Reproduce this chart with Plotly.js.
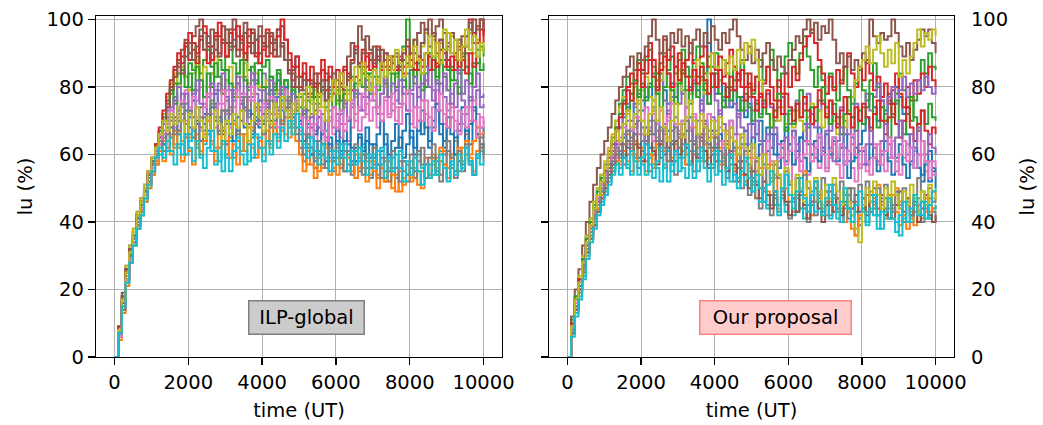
<!DOCTYPE html>
<html>
<head>
<meta charset="utf-8">
<script src="https://cdn.plot.ly/plotly-3.0.1.min.js"></script>
<style>html,body{margin:0;padding:0;background:#fff}#chart{width:1043px;height:425px}</style>
</head>
<body>
<div id="chart"></div>
<script>
const timeUT = [0,100,200,300,400,500,600,700,800,900,1000,1100,1200,1300,1400,1500,1600,1700,1800,1900,2000,2100,2200,2300,2400,2500,2600,2700,2800,2900,3000,3100,3200,3300,3400,3500,3600,3700,3800,3900,4000,4100,4200,4300,4400,4500,4600,4700,4800,4900,5000,5100,5200,5300,5400,5500,5600,5700,5800,5900,6000,6100,6200,6300,6400,6500,6600,6700,6800,6900,7000,7100,7200,7300,7400,7500,7600,7700,7800,7900,8000,8100,8200,8300,8400,8500,8600,8700,8800,8900,9000,9100,9200,9300,9400,9500,9600,9700,9800,9900,10000];
const xTicks = [0,2000,4000,6000,8000,10000];
const yTicks = [0,20,40,60,80,100];

// ILP-global, runs 1-10
const ilpBlue   = [0,7,16,24,30,35,40,44,48,52, 56,60,63,66,64,68,71,66,70,73, 68,65,70,74,69,66,72,75,70,67, 63,68,72,67,70,74,69,65,71,68, 72,75,70,78,82,76,80,74,85,89, 72,66,62,68,64,60,66,70,63,59, 64,61,67,63,58,62,66,60,64,59, 63,57,61,66,60,56,62,65,59,63, 67,62,70,66,72,64,68,73,66,62, 68,71,65,69,74,67,63,70,66,68, 65];
const ilpOrange = [0,6,15,23,29,34,39,43,47,51, 55,58,61,64,62,66,63,67,64,60, 65,68,63,61,66,70,64,62,67,63, 60,65,69,64,61,66,63,68,65,62, 66,70,64,68,72,67,71,65,69,73, 64,60,57,62,59,55,60,63,58,56, 61,57,63,59,55,60,56,62,58,54, 58,53,57,52,56,50,54,49,53,57, 52,56,51,55,59,53,57,54,58,61, 56,60,64,58,62,66,60,64,68,62, 63];
const ilpGreen  = [0,9,18,26,32,37,42,46,50,54, 58,62,65,70,74,78,81,84,86,83, 87,85,89,84,88,91,86,83,88,85, 89,92,87,84,88,90,85,82,87,90, 86,88,83,80,84,79,82,76,80,77, 74,78,73,77,81,75,79,74,78,82, 76,80,75,79,83,78,82,86,80,84, 88,83,87,81,85,89,84,88,92,100, 86,83,88,84,80,85,89,83,87,91, 85,82,88,84,90,86,81,87,91,85, 87];
const ilpRed    = [0,8,17,25,31,36,41,45,49,53, 57,61,65,69,74,79,83,86,89,92, 88,93,90,95,91,87,92,96,90,94, 89,93,97,91,95,88,92,96,90,87, 93,89,95,91,97,92,88,85,82,86, 80,84,78,82,77,81,85,79,83,78, 82,76,80,84,79,83,87,84,89,85, 88,92,86,90,85,88,86,89,84,87, 86,90,85,88,86,89,85,87,91,86, 88,85,89,86,92,95,100,96,98,100, 95];
const ilpPurple = [0,7,16,24,30,35,40,44,48,52, 56,60,63,67,71,74,77,73,78,75, 80,76,79,82,77,80,84,79,81,78, 82,79,76,81,78,83,80,77,82,79, 84,80,77,81,78,74,79,76,72,75, 70,74,68,72,67,71,66,70,73,68, 72,69,74,70,75,72,78,73,77,81, 76,72,78,82,77,73,79,75,80,84, 78,74,80,76,82,85,79,75,81,77, 73,78,74,80,76,72,77,73,79,74, 75];
const ilpBrown  = [0,9,19,27,33,38,43,47,51,55, 59,63,67,72,77,81,85,88,91,94, 90,95,98,100,96,93,97,91,95,98, 93,97,100,95,91,96,93,97,94,90, 95,92,96,93,97,98,94,88,84,80, 83,79,82,78,81,77,80,84,79,82, 78,81,85,89,93,90,98,94,90,88, 92,88,91,86,89,87,90,85,88,86, 90,87,96,99,97,100,95,98,100,96, 93,90,94,91,95,92,97,100,98,100, 96];
const ilpPink   = [0,7,16,24,30,35,40,44,48,52, 56,60,63,67,70,73,76,72,75,79, 74,71,76,80,75,72,78,74,70,75, 79,73,77,71,75,78,72,76,74,70, 74,78,72,76,73,77,74,71,68,72, 67,71,65,69,64,68,63,67,71,66, 70,65,69,64,68,72,67,71,75,70, 74,68,72,77,71,75,70,74,78,73, 69,74,70,76,72,68,74,79,73,69, 75,71,67,73,69,74,70,76,72,68, 70];
const ilpGray   = [0,6,15,23,29,34,39,43,47,51, 55,59,62,65,68,65,70,67,72,69, 66,71,74,68,72,70,75,71,67,73, 76,72,78,81,76,73,77,72,69,74, 70,73,68,72,66,70,74,68,71,66, 62,58,63,60,56,61,57,62,59,55, 59,56,61,57,54,58,55,60,56,53, 57,54,59,55,52,56,53,58,55,52, 56,53,58,62,57,54,59,55,52,57, 61,56,53,58,55,60,57,54,59,62, 60];
const ilpOlive  = [0,9,18,27,33,38,43,47,51,55, 59,63,67,72,77,81,84,80,86,83, 79,84,88,82,86,80,84,89,83,78, 82,86,80,77,83,87,81,78,84,80, 76,82,78,74,79,75,80,77,73,76, 72,76,71,75,79,74,78,73,77,81, 75,79,74,78,82,77,81,85,79,83, 78,82,86,80,84,88,83,87,91,86, 90,94,88,92,96,90,94,89,93,97, 91,95,89,93,88,92,96,90,94,91, 92];
const ilpCyan   = [0,6,14,22,28,33,38,42,46,50, 54,57,60,63,61,65,62,66,63,60, 64,67,62,59,63,66,61,57,62,55, 60,64,59,62,66,61,58,63,60,65, 62,67,63,68,65,70,73,68,72,75, 66,62,65,60,64,59,63,67,61,58, 62,59,64,60,57,61,58,63,59,56, 60,57,62,58,55,59,56,61,58,54, 58,55,60,56,53,57,54,59,61,56, 53,57,60,55,58,62,57,54,59,61, 60];
// ILP-global, runs 11-20
const ilpBlue2   = [0,8,16,23,30,36,40,45,49,54, 57,62,66,63,69,72,67,74,70,65, 71,76,69,64,72,67,74,78,71,66, 73,69,64,71,75,68,73,66,70,76, 69,74,79,72,77,73,80,75,71,77, 70,64,69,60,66,71,63,58,65,61, 67,60,64,70,62,58,65,61,68,63, 59,66,70,63,58,64,69,62,67,72, 65,60,67,73,68,62,70,75,69,64, 71,66,60,67,72,64,69,74,66,63, 62];
const ilpOrange2 = [0,5,13,21,28,33,38,42,46,50, 54,57,61,58,64,60,67,62,58,65, 61,57,66,60,64,70,63,58,62,68, 64,59,63,57,66,61,68,62,59,64, 60,67,62,69,64,70,66,72,68,64, 60,55,61,57,53,59,56,62,54,58, 54,59,55,61,57,53,60,56,52,58, 55,50,56,52,58,54,49,55,51,57, 53,59,55,50,57,53,60,56,62,57, 53,59,55,62,57,64,59,55,61,66, 67];
const ilpGreen2  = [0,8,17,25,31,36,41,45,50,54, 58,63,67,71,76,79,75,81,85,80, 84,79,86,82,77,84,80,87,83,78, 85,81,77,84,88,82,79,86,81,85, 80,76,83,79,85,78,82,75,79,73, 77,72,76,80,73,78,82,76,80,74, 79,73,78,82,76,81,86,80,84,78, 83,79,85,81,77,84,80,86,82,78, 85,81,87,79,84,90,85,81,88,83, 79,86,82,78,85,90,84,80,87,92, 89];
const ilpRed2    = [0,9,18,26,32,37,42,46,50,55, 59,63,68,73,78,82,86,90,87,93, 96,91,87,94,98,92,88,95,99,93, 89,96,92,98,94,90,97,93,89,95, 91,97,93,89,95,100,94,90,86,89, 83,87,82,86,80,84,88,82,86,80, 85,81,86,82,88,92,87,91,86,90, 86,89,85,88,86,89,85,88,86,92, 88,85,89,86,90,85,88,86,94,90, 86,89,85,92,88,84,90,86,93,97, 93];
const ilpPurple2 = [0,7,15,23,29,35,40,44,48,53, 57,61,65,69,73,70,76,80,74,78, 73,78,82,75,71,77,81,74,79,84, 77,72,79,83,77,74,80,84,78,73, 79,75,82,77,73,80,76,71,78,74, 69,73,66,71,75,68,72,65,70,74, 67,72,76,70,74,79,73,77,82,76, 80,74,78,83,77,81,76,82,78,73, 79,83,77,81,86,80,76,82,78,84, 79,75,81,85,78,82,76,80,84,77, 78];
const ilpBrown2  = [0,8,18,26,32,37,42,46,50,54, 58,62,66,70,75,80,83,87,84,89, 93,88,92,97,91,95,90,94,89,93, 97,91,94,89,93,99,95,90,94,98, 92,96,90,94,89,93,88,84,80,83, 79,82,77,81,84,78,82,76,80,84, 80,84,79,83,87,91,86,90,95,91, 87,91,86,90,88,85,89,86,90,94, 90,94,89,93,97,92,96,90,94,88, 92,96,90,94,89,95,99,93,97,100, 97];
const ilpPink2   = [0,6,15,23,29,34,39,44,48,52, 56,59,63,66,69,73,68,71,76,70, 73,77,71,67,74,78,72,68,75,79, 72,68,74,79,73,69,76,80,73,69, 75,71,77,72,68,74,79,73,70,76, 71,66,70,65,69,73,67,64,70,74, 68,73,67,71,76,70,74,78,72,76, 80,74,70,76,72,78,74,69,75,79, 73,68,74,70,76,71,67,73,78,72, 68,74,70,66,72,68,74,70,65,71, 69];
const ilpGray2   = [0,7,14,22,28,34,39,43,47,52, 55,60,64,61,66,71,66,70,75,69, 73,68,64,71,67,72,76,70,66,73, 69,74,70,66,73,77,71,67,74,70, 66,72,76,70,74,69,73,77,71,68, 64,60,66,62,58,64,60,56,62,58, 63,59,55,61,57,63,59,54,60,56, 62,57,53,59,55,61,56,52,58,54, 60,55,61,57,53,59,63,58,54,60, 64,59,55,61,57,63,58,54,60,65, 58];
const ilpOlive2  = [0,8,17,25,31,37,42,46,50,55, 59,62,66,70,67,72,69,74,70,66, 72,68,74,70,65,71,67,73,69,64, 70,66,72,68,73,69,64,70,75,71, 67,73,69,75,71,77,73,69,75,72, 78,74,80,76,72,78,74,70,76,82, 78,84,80,76,82,86,81,87,83,79, 85,81,87,83,89,85,91,87,83,89, 86,92,88,84,90,95,89,93,87,91, 96,90,94,88,92,97,91,95,89,93, 90];
const ilpCyan2   = [0,7,15,22,28,33,38,42,47,51, 55,59,62,59,64,61,57,63,60,66, 62,58,64,60,56,62,67,61,58,64, 59,55,61,65,60,57,63,59,66,62, 58,64,60,66,62,68,64,70,66,72, 68,63,59,65,61,57,63,59,55,61, 57,63,59,55,61,57,62,58,54,60, 56,61,57,53,59,55,60,56,52,58, 54,59,55,51,57,53,58,54,60,56, 52,58,54,60,56,62,58,54,60,57, 58];

// Our proposal, runs 1-10
const oppBlue   = [0,9,16,21,27,33,38,42,46,50, 54,57,61,64,68,71,74,70,75,78, 73,77,81,76,80,84,79,75,81,77, 82,78,74,80,85,79,76,81,100,84, 78,82,76,80,74,79,73,77,71,75, 69,66,70,64,68,62,66,60,64,68, 63,67,61,65,69,63,60,64,68,62, 66,60,64,58,62,66,61,65,59,63, 67,71,68,74,70,76,73,78,75,80, 77,72,66,62,56,60,54,58,52,56, 50];
const oppOrange = [0,8,15,20,25,31,36,40,43,47, 50,53,56,59,57,61,58,55,60,63, 58,55,60,57,62,59,56,61,64,58, 62,66,60,64,68,62,58,64,67,61, 65,62,58,63,59,55,60,54,52,56, 51,47,50,46,49,45,48,44,47,50, 46,43,47,44,48,45,42,46,49,45, 42,46,43,47,44,40,43,38,36,41, 44,40,43,47,42,45,41,44,48,43, 39,42,38,41,45,42,46,43,47,44, 45];
const oppGreen  = [0,11,18,24,30,36,41,45,50,54, 57,61,65,70,75,79,83,81,85,88, 84,88,91,86,82,87,90,85,89,84, 88,91,86,83,88,92,87,84,89,86, 90,85,88,84,80,86,82,88,84,80, 78,83,88,82,86,91,85,80,84,89, 93,88,84,90,95,89,85,80,86,82, 78,84,80,76,82,86,79,75,81,85, 79,76,82,87,80,74,70,76,72,78, 84,79,74,70,76,82,88,84,90,86, 85];
const oppRed    = [0,10,17,23,29,35,40,44,48,52, 56,60,64,68,72,76,80,84,82,87, 85,89,93,88,84,90,94,88,92,86, 90,84,88,93,87,83,89,92,86,90, 85,89,83,87,91,86,82,85,80,84, 79,83,77,81,86,80,76,82,78,84, 80,86,82,88,92,95,97,93,88,84, 78,83,79,85,81,86,90,84,80,86, 82,88,84,79,83,77,81,75,79,84, 78,74,80,76,82,78,84,80,86,82, 80];
const oppPurple = [0,9,17,22,28,34,39,43,47,51, 54,57,60,64,68,72,75,78,74,79, 76,80,77,73,78,82,76,72,77,81, 75,79,74,78,82,77,73,78,75,80, 76,72,77,74,79,75,71,76,73,77, 73,76,72,75,78,74,70,74,77,72, 69,73,76,71,75,78,72,68,73,76, 71,67,72,69,74,70,66,71,75,70, 74,78,73,77,81,76,72,77,80,75, 79,83,77,81,78,82,79,83,80,78, 80];
const oppBrown  = [0,12,20,26,33,40,46,51,56,60, 64,68,72,76,80,83,86,89,85,90, 88,92,95,100,94,90,95,91,96,93, 97,92,95,90,94,97,92,96,93,98, 94,91,96,93,97,100,95,91,88,92, 87,91,86,90,93,88,85,89,86,84, 88,91,95,93,97,100,96,99,94,98, 96,100,94,87,90,86,89,85,88,86, 90,87,100,95,93,96,94,95,100,96, 92,89,93,88,91,94,97,95,97,93, 90];
const oppPink   = [0,8,16,21,27,33,38,42,46,50, 53,56,59,62,65,63,67,64,68,71, 66,63,68,72,65,61,66,70,64,60, 65,69,63,67,71,65,61,66,62,67, 63,68,64,60,65,61,66,62,58,63, 59,55,60,56,61,57,53,58,62,56, 52,57,61,55,59,54,58,62,56,60, 55,59,63,57,53,58,61,56,52,57, 61,55,59,63,57,61,55,59,64,58, 54,59,63,57,61,56,60,55,58,54, 55];
const oppGray   = [0,7,14,19,25,31,36,40,44,47, 50,53,55,58,61,57,60,63,59,56, 61,58,55,60,64,59,56,62,58,54, 59,63,57,61,55,59,64,58,62,56, 60,55,59,53,57,52,56,50,54,48, 52,47,44,49,45,42,47,43,48,45, 41,46,43,48,44,40,45,42,47,43, 46,42,48,44,40,45,41,46,43,39, 44,48,43,46,42,47,44,41,45,49, 44,40,45,42,47,43,40,44,41,43, 40];
const oppOlive  = [0,10,18,24,30,36,41,46,50,54, 58,62,66,70,74,77,72,76,80,75, 79,83,77,73,78,82,86,80,76,81, 85,79,74,78,83,88,82,78,84,90, 86,82,88,84,89,85,91,87,93,90, 94,88,82,76,72,68,73,70,74,69, 72,68,73,70,67,71,75,70,73,68, 72,76,70,66,71,68,73,77,82,86, 88,92,87,91,95,90,86,91,87,93, 83,88,84,89,93,97,92,96,94,97, 95];
const oppCyan   = [0,7,13,18,24,30,35,39,43,46, 49,52,55,58,56,60,57,54,59,62, 57,54,59,62,56,52,57,61,55,58, 62,56,53,58,61,55,59,63,57,60, 54,58,62,56,52,57,53,58,51,55, 49,52,46,50,44,48,45,42,47,43, 46,42,48,44,41,45,49,43,46,42, 45,41,47,43,40,44,48,42,45,41, 44,40,46,42,38,43,47,41,44,40, 36,41,45,40,43,47,42,46,41,44, 45];
// Our proposal, runs 11-20
const oppBlue2   = [0,8,15,21,27,32,37,41,45,49, 52,56,59,63,60,65,62,67,63,59, 64,68,62,66,70,64,60,67,63,69, 65,61,67,71,64,60,66,70,63,67, 62,66,60,64,68,62,58,63,67,61, 65,59,63,57,61,66,60,56,62,58, 63,57,61,65,59,55,60,64,58,62, 56,60,65,59,63,57,53,58,62,56, 61,57,63,59,55,60,64,58,54,59, 63,57,53,58,62,56,52,57,61,55, 55];
const oppOrange2 = [0,7,14,20,26,31,36,40,44,48, 51,54,57,61,58,63,66,60,64,58, 62,66,60,56,63,67,61,65,59,63, 67,61,57,64,60,66,70,63,59,65, 61,57,63,67,60,56,62,58,54,59, 55,51,56,52,57,53,49,54,50,55, 51,47,53,49,55,50,46,52,48,44, 49,45,51,47,43,48,44,40,36,42, 47,43,49,45,51,46,42,48,44,50, 46,42,47,43,39,45,41,47,43,49, 48];
const oppGreen2  = [0,10,18,23,29,35,40,44,49,53, 56,60,64,68,72,76,73,78,82,77, 81,76,80,84,78,74,80,84,79,75, 81,85,79,75,81,77,83,79,75,80, 84,78,74,80,76,82,77,73,78,74, 70,75,71,76,72,68,73,78,72,67, 73,69,75,79,73,68,74,70,76,80, 74,69,75,71,66,72,77,71,67,73, 69,74,78,72,68,74,70,65,71,76, 70,66,72,77,71,67,73,69,75,71, 70];
const oppRed2    = [0,10,17,23,28,34,39,43,47,51, 55,59,63,67,71,75,79,76,81,85, 80,84,88,83,79,85,89,84,80,86, 82,87,83,79,85,81,86,82,78,84, 80,85,81,77,83,79,84,80,76,81, 77,73,78,74,79,75,71,76,72,78, 74,70,75,71,77,73,69,74,79,75, 71,76,72,68,73,77,72,68,74,70, 75,71,67,72,76,70,66,71,75,69, 65,70,74,68,64,69,73,67,63,68, 66];
const oppPurple2 = [0,8,16,22,27,33,38,42,46,50, 53,57,60,64,61,66,70,65,69,73, 68,64,70,74,67,63,69,73,67,71, 66,70,74,68,64,70,75,69,65,71, 67,73,69,64,70,66,72,68,63,69, 65,70,64,60,66,62,68,63,59,65, 61,67,63,58,64,69,63,59,65,61, 67,62,58,64,68,62,58,63,67,61, 57,63,67,62,58,64,69,63,59,65, 70,64,60,66,62,68,64,60,66,62, 60];
const oppBrown2  = [0,7,14,20,26,31,35,39,43,47, 50,54,57,60,63,59,64,61,66,62, 58,63,67,61,57,63,68,62,58,64, 60,66,62,57,63,59,65,61,56,62, 58,64,60,55,61,57,52,58,54,50, 55,51,47,52,48,44,49,45,50,46, 42,47,43,49,45,41,46,50,44,40, 45,49,43,47,42,46,50,44,48,43, 47,42,46,50,44,48,42,46,41,45, 49,43,47,42,46,40,44,48,42,40, 42];
const oppPink2   = [0,9,16,22,28,34,39,43,47,51, 54,58,62,59,64,68,63,67,71,66, 70,74,68,64,69,73,67,71,75,69, 65,70,74,68,72,66,62,68,72,66, 70,64,60,66,70,64,60,65,61,57, 62,58,54,60,64,58,54,59,63,57, 61,65,59,55,60,64,58,62,66,60, 56,61,65,59,63,57,61,66,60,56, 62,58,54,59,63,57,61,65,59,55, 60,64,58,62,56,60,64,58,53,58, 56];
const oppGray2   = [0,8,15,20,26,32,37,41,45,49, 52,55,58,62,59,63,67,62,66,70, 64,60,66,70,64,68,62,58,64,68, 62,66,70,64,60,66,62,68,64,60, 65,61,57,63,59,64,60,56,61,57, 53,58,54,50,56,52,57,53,49,55, 51,47,53,49,54,50,46,52,48,53, 49,45,51,47,52,48,44,50,46,51, 47,52,48,44,50,46,51,47,43,49, 45,50,46,42,48,53,49,45,50,46, 48];
const oppOlive2  = [0,9,17,22,28,34,39,44,48,52, 56,60,64,67,64,69,73,68,72,76, 70,66,72,76,70,74,68,64,70,75, 69,65,71,76,70,66,72,68,64,70, 66,71,67,62,68,64,60,66,62,57, 63,59,54,60,56,52,58,54,50,56, 52,48,54,50,46,52,48,53,49,45, 51,47,53,49,45,50,46,42,38,34, 45,50,46,52,48,44,50,46,52,48, 44,49,45,51,47,43,49,45,51,47, 48];
const oppCyan2   = [0,6,12,17,23,29,34,38,42,45, 48,51,54,57,54,59,56,61,58,54, 59,63,57,53,58,62,56,52,57,61, 55,59,63,57,53,58,62,56,52,57, 61,55,51,56,60,54,50,55,59,53, 49,54,50,46,51,55,49,45,50,54, 48,44,49,53,47,43,48,52,46,42, 47,51,45,41,46,50,44,40,45,49, 43,39,44,48,42,38,43,47,41,37, 42,46,40,44,48,42,46,41,45,49, 50];

const ilpSeries = [ilpBlue, ilpOrange, ilpGreen, ilpRed, ilpPurple, ilpBrown, ilpPink, ilpGray, ilpOlive, ilpCyan,
                   ilpBlue2, ilpOrange2, ilpGreen2, ilpRed2, ilpPurple2, ilpBrown2, ilpPink2, ilpGray2, ilpOlive2, ilpCyan2];
const oppSeries = [oppBlue, oppOrange, oppGreen, oppRed, oppPurple, oppBrown, oppPink, oppGray, oppOlive, oppCyan,
                   oppBlue2, oppOrange2, oppGreen2, oppRed2, oppPurple2, oppBrown2, oppPink2, oppGray2, oppOlive2, oppCyan2];
const colors = ['#1f77b4','#ff7f0e','#2ca02c','#d62728','#9467bd','#8c564b','#e377c2','#7f7f7f','#bcbd22','#17becf'];

const traces = [];
ilpSeries.forEach((s, i) => traces.push({x: timeUT, y: s, xaxis: 'x', yaxis: 'y', type: 'scatter', mode: 'lines',
  line: {color: colors[i % 10], width: 2, shape: 'hv'}, hoverinfo: 'skip'}));
oppSeries.forEach((s, i) => traces.push({x: timeUT, y: s, xaxis: 'x2', yaxis: 'y2', type: 'scatter', mode: 'lines',
  line: {color: colors[i % 10], width: 2, shape: 'hv'}, hoverinfo: 'skip'}));

const FS = 19.5;
const font = {family: 'DejaVu Sans, sans-serif', size: FS, color: '#000'};
const gridC = '#b0b0b0';
const xCommon = {range: [-500, 10500], tickvals: xTicks, ticktext: xTicks.map(String), ticks: 'outside', ticklen: 7, tickwidth: 1.3,
  tickcolor: '#000', showline: true, linecolor: '#000', linewidth: 1.3, mirror: true, showgrid: true, gridcolor: gridC, gridwidth: 1,
  zeroline: false, tickfont: font, title: {text: 'time (UT)', font: font, standoff: 10}};
const yCommon = {range: [0, 101], tickvals: yTicks, ticktext: yTicks.map(String), ticks: 'outside', ticklen: 7, tickwidth: 1.3,
  tickcolor: '#000', showline: true, linecolor: '#000', linewidth: 1.3, mirror: true, showgrid: true, gridcolor: gridC, gridwidth: 1,
  zeroline: false, tickfont: font};

const layout = {
  width: 1043, height: 425,
  margin: {l: 0, r: 0, t: 16, b: 68},
  paper_bgcolor: '#fff', plot_bgcolor: '#fff',
  showlegend: false,
  font: font,
  xaxis: Object.assign({}, xCommon, {domain: [96/1043, 502/1043], anchor: 'y'}),
  yaxis: Object.assign({}, yCommon, {domain: [0, 1], anchor: 'x', title: {text: 'lu (%)', font: font, standoff: 8}}),
  xaxis2: Object.assign({}, xCommon, {domain: [549/1043, 954/1043], anchor: 'y2'}),
  yaxis2: Object.assign({}, yCommon, {domain: [0, 1], anchor: 'x2', showticklabels: false}),
  yaxis3: {overlaying: 'y2', anchor: 'x2', side: 'right', range: [0, 101], tickvals: yTicks, ticktext: yTicks.map(String),
    ticks: 'outside', ticklen: 12, tickcolor: 'rgba(0,0,0,0)', showline: false, showgrid: false, zeroline: false, tickfont: font,
    title: {text: 'lu (%)', font: font, standoff: 13}},
  annotations: [
    {text: 'ILP-global', xref: 'x', yref: 'y', x: 5210, y: 11.8, showarrow: false, font: font,
     width: 106, height: 24, bgcolor: '#cccccc', bordercolor: '#808080', borderwidth: 1.5, borderpad: 4},
    {text: 'Our proposal', xref: 'x2', yref: 'y2', x: 5650, y: 11.8, showarrow: false, font: font,
     width: 142, height: 24, bgcolor: '#ffcccc', bordercolor: '#ff8080', borderwidth: 1.5, borderpad: 4}
  ]
};
// invisible trace to activate the right-hand tick labels
traces.push({x: [0], y: [0], xaxis: 'x2', yaxis: 'y3', type: 'scatter', mode: 'markers', marker: {opacity: 0}, hoverinfo: 'skip'});

Plotly.newPlot('chart', traces, layout, {displayModeBar: false, staticPlot: true});
</script>
</body>
</html>
